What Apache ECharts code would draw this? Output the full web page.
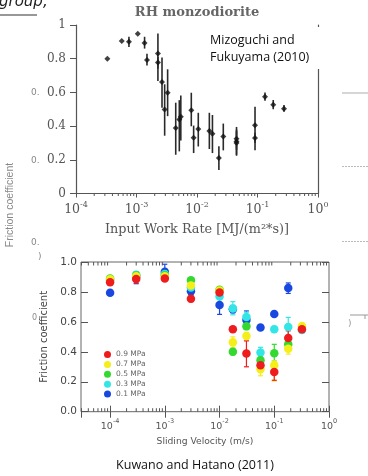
<!DOCTYPE html>
<html><head><meta charset="utf-8">
<script src="https://cdn.jsdelivr.net/npm/echarts@6/dist/echarts.min.js"></script>
<style>html,body{margin:0;padding:0;background:#fff;overflow:hidden}#c{width:368px;height:476px}</style>
</head><body><div id="c"></div>
<script>
// ---------- Top chart: Mizoguchi and Fukuyama (2010), RH monzodiorite ----------
const topRate = [3.3e-4, 5.7e-4, 7.5e-4, 1.05e-3, 1.36e-3, 1.49e-3, 2.26e-3, 2.26e-3, 2.64e-3, 2.92e-3, 3.27e-3, 4.45e-3, 5.1e-3, 5.4e-3, 8.05e-3, 8.8e-3, 1.05e-2, 1.6e-2, 1.8e-2, 2.3e-2, 2.72e-2, 4.5e-2, 4.5e-2, 4.5e-2, 9.1e-2, 9.1e-2, 0.133, 0.182, 0.274];
const topMu   = [0.80, 0.905, 0.90, 0.948, 0.893, 0.793, 0.831, 0.777, 0.661, 0.499, 0.598, 0.389, 0.439, 0.455, 0.494, 0.331, 0.383, 0.371, 0.355, 0.21, 0.339, 0.325, 0.309, 0.30, 0.405, 0.33, 0.574, 0.527, 0.503];
const topLow  = [null, null, 0.87, null, 0.86, 0.76, 0.667, 0.74, 0.509, 0.343, 0.459, 0.23, 0.25, 0.315, 0.399, 0.24, 0.279, 0.264, 0.24, 0.14, 0.256, 0.26, 0.224, 0.23, 0.256, 0.30, 0.55, 0.50, 0.485];
const topHigh = [null, null, 0.93, null, 0.93, 0.83, 0.95, 0.81, 0.807, 0.648, 0.737, 0.539, 0.554, 0.582, 0.598, 0.403, 0.479, 0.479, 0.466, 0.28, 0.415, 0.38, 0.395, 0.37, 0.515, 0.36, 0.60, 0.555, 0.525];
const topYTicks = [0, 0.2, 0.4, 0.6, 0.8, 1];

// ---------- Bottom chart: Kuwano and Hatano (2011) ----------
const velocities = [1e-4, 3e-4, 1e-3, 3e-3, 1e-2, 1.75e-2, 3.1e-2, 5.6e-2, 1e-1, 1.8e-1, 3.2e-1];
const pressures = ['0.9 MPa', '0.7 MPa', '0.5 MPa', '0.3 MPa', '0.1 MPa'];
const mu09 = [0.865, 0.886, 0.89, 0.755, 0.797, 0.55, 0.388, 0.31, 0.265, 0.492, 0.55];
const lo09 = [0.85, 0.86, 0.88, 0.735, 0.78, null, 0.30, 0.285, 0.21, 0.45, 0.535];
const hi09 = [0.88, 0.91, 0.90, 0.78, 0.81, null, 0.473, 0.335, 0.31, 0.54, 0.565];
const mu07 = [0.885, 0.905, 0.905, 0.843, 0.81, 0.464, 0.505, 0.283, 0.31, 0.42, 0.572];
const lo07 = [null, null, null, null, null, 0.43, 0.48, 0.24, 0.205, 0.385, 0.545];
const hi07 = [null, null, null, null, null, 0.50, 0.53, 0.31, 0.34, 0.45, 0.59];
const mu05 = [0.89, 0.91, 0.912, 0.878, 0.815, 0.40, 0.57, 0.343, 0.39, 0.45, null];
const lo05 = [null, null, null, null, null, 0.38, 0.55, 0.32, 0.34, 0.43, null];
const hi05 = [null, null, null, null, null, 0.42, 0.59, 0.36, 0.45, 0.47, null];
const mu03 = [0.878, 0.915, 0.92, 0.83, 0.77, 0.69, 0.632, 0.395, 0.55, 0.565, 0.545];
const lo03 = [null, null, null, null, 0.75, 0.647, 0.60, 0.37, 0.53, 0.49, 0.525];
const hi03 = [null, null, null, null, 0.79, 0.735, 0.665, 0.43, 0.57, 0.63, 0.57];
const mu01 = [0.795, 0.90, 0.935, 0.805, 0.713, 0.685, 0.612, 0.563, 0.653, 0.826, null];
const lo01 = [0.78, 0.855, 0.90, 0.78, 0.65, 0.66, 0.58, null, null, 0.79, null];
const hi01 = [0.81, 0.935, 0.985, 0.83, 0.78, 0.71, 0.673, null, null, 0.86, null];
const bottomYTicks = [0, 0.2, 0.4, 0.6, 0.8, 1.0];

// ---------- styling ----------
const colors = {'0.9 MPa':'#ee1c1c','0.7 MPa':'#f4ef1a','0.5 MPa':'#33d92e','0.3 MPa':'#33e6e6','0.1 MPa':'#1848e0'};
const groups = {
  '0.9 MPa':[mu09,lo09,hi09], '0.7 MPa':[mu07,lo07,hi07], '0.5 MPa':[mu05,lo05,hi05],
  '0.3 MPa':[mu03,lo03,hi03], '0.1 MPa':[mu01,lo01,hi01]
};
const SERIF = 'DejaVu Serif', SANS = 'DejaVu Sans';

function minorTickValues(e0, e1, minV){
  const a=[]; for(let e=e0;e<e1;e++){ for(let m=2;m<=9;m++){ const v=m*Math.pow(10,e); if(v>=minV) a.push([v,0.5]); } } return a;
}
function expLabel(v){
  const l=Math.log10(v), e=Math.round(l);
  if(Math.abs(l-e)>0.01) return '';
  return '{b|10}{s|'+e+'}';
}

const chart = echarts.init(document.getElementById('c'), null, {renderer:'canvas'});

function minorRenderer(len, top, inside){
  return function(params, api){
    const cs = params.coordSys;
    const x = api.coord([api.value(0), api.value(1)])[0];
    const yb = cs.y + cs.height;
    const ch = [{type:'line', shape:{x1:x, y1:yb, x2:x, y2: inside ? yb-len : yb+len}, style:{stroke:'#555', lineWidth:1}}];
    if(top) ch.push({type:'line', shape:{x1:x, y1:cs.y, x2:x, y2:cs.y+len}, style:{stroke:'#555', lineWidth:1}});
    return {type:'group', children:ch};
  };
}
function errRenderer(color, cap, width){
  return function(params, api){
    const x = api.value(0);
    const p1 = api.coord([x, api.value(1)]), p2 = api.coord([x, api.value(2)]);
    const ch = [{type:'line', shape:{x1:p1[0], y1:p1[1], x2:p2[0], y2:p2[1]}, style:{stroke:color, lineWidth:width}}];
    if(cap>0){
      ch.push({type:'line', shape:{x1:p1[0]-cap, y1:p1[1], x2:p1[0]+cap, y2:p1[1]}, style:{stroke:color, lineWidth:width}});
      ch.push({type:'line', shape:{x1:p2[0]-cap, y1:p2[1], x2:p2[0]+cap, y2:p2[1]}, style:{stroke:color, lineWidth:width}});
    }
    return {type:'group', children:ch};
  };
}

const series = [];
// top chart
series.push({type:'custom', xAxisIndex:0, yAxisIndex:0, silent:true, z:3,
  data: minorTickValues(-4, 0, 1e-4), renderItem: minorRenderer(2.5, false, false)});
series.push({type:'custom', xAxisIndex:0, yAxisIndex:0, silent:true, z:3,
  data: topRate.map((v,i)=> topLow[i]==null?null:[v, topLow[i], topHigh[i]]).filter(d=>d),
  renderItem: errRenderer('#2a2a2a', 0, 1.6)});
series.push({type:'scatter', xAxisIndex:0, yAxisIndex:0, symbol:'diamond', symbolSize:6,
  itemStyle:{color:'#111'}, data: topRate.map((v,i)=>[v, topMu[i]]), z:4});

// bottom chart
series.push({type:'custom', xAxisIndex:2, yAxisIndex:2, silent:true, z:3,
  data: minorTickValues(-5, 0, 2.94e-5), renderItem: minorRenderer(3.5, true, true)});
['0.1 MPa','0.3 MPa','0.5 MPa','0.7 MPa','0.9 MPa'].forEach(name=>{
  const [mu, lo, hi] = groups[name];
  series.push({type:'custom', name: name+' err', xAxisIndex:2, yAxisIndex:2, silent:true, z:4,
    data: velocities.map((v,i)=> lo[i]==null?null:[v, lo[i], hi[i]]).filter(d=>d),
    renderItem: errRenderer(colors[name], 2.5, 1.2)});
  series.push({type:'scatter', name: name, xAxisIndex:2, yAxisIndex:2, symbol:'circle', symbolSize:8.5, z:5,
    itemStyle:{color:colors[name], opacity:1},
    data: velocities.map((v,i)=> mu[i]==null?null:[v, mu[i]]).filter(d=>d)});
});

const topLabelRich = {
  b:{fontFamily:SERIF, fontSize:12.5, color:'#555', lineHeight:16, verticalAlign:'bottom'},
  s:{fontFamily:SERIF, fontSize:8, color:'#555', lineHeight:10, verticalAlign:'top'}
};
const botLabelRich = {
  b:{fontFamily:SANS, fontSize:9.5, color:'#555', lineHeight:14, verticalAlign:'bottom'},
  s:{fontFamily:SANS, fontSize:6.5, color:'#555', lineHeight:8, verticalAlign:'top'}
};

const option = {
  animation:false,
  backgroundColor:'#fff',
  grid:[
    {left:76, right:50, top:25, bottom:282.5, containLabel:false},
    {left:81, right:39, top:262, bottom:64.3, containLabel:false, show:true, borderColor:'#666', borderWidth:1}
  ],
  legend:{
    data: pressures, orient:'vertical', left:104, top:350.5, padding:0,
    itemWidth:7, itemHeight:7, itemGap:1.9, icon:'circle',
    textStyle:{fontFamily:SANS, fontSize:7.5, color:'#666', lineHeight:7}
  },
  xAxis:[
    {type:'log', logBase:10, gridIndex:0, min:1e-4, max:1, position:'bottom',
      axisLine:{show:true, lineStyle:{color:'#555', width:1.2}},
      axisTick:{show:true, inside:false, length:4, lineStyle:{color:'#555'}},
      axisLabel:{formatter:expLabel, rich:topLabelRich, margin:7},
      splitLine:{show:false},
      name:'Input Work Rate [MJ/(m²*s)]', nameLocation:'middle', nameGap:30,
      nameTextStyle:{fontFamily:SERIF, fontSize:12.8, color:'#555'}},
    {type:'log', logBase:10, gridIndex:0, min:1e-4, max:1, position:'top',
      axisLine:{show:true, lineStyle:{color:'#555', width:1.2}},
      axisTick:{show:false}, axisLabel:{show:false}, splitLine:{show:false}},
    {type:'log', logBase:10, gridIndex:1, min:2.94e-5, max:1, position:'bottom',
      axisLine:{show:false}, 
      axisTick:{show:true, inside:true, length:6, lineStyle:{color:'#555'}},
      axisLabel:{formatter:expLabel, rich:botLabelRich, margin:6, showMinLabel:false},
      splitLine:{show:false},
      name:'Sliding Velocity (m/s)', nameLocation:'middle', nameGap:25,
      nameTextStyle:{fontFamily:SANS, fontSize:9.2, color:'#555'}},
    {type:'log', logBase:10, gridIndex:1, min:2.94e-5, max:1, position:'top',
      axisLine:{show:false}, axisTick:{show:true, inside:true, length:6, lineStyle:{color:'#555'}},
      axisLabel:{show:false}, splitLine:{show:false}}
  ],
  yAxis:[
    {type:'value', gridIndex:0, min:0, max:1, interval:0.2,
      axisLine:{show:true, lineStyle:{color:'#555', width:1.2}},
      axisTick:{show:true, inside:false, length:6, lineStyle:{color:'#555'}},
      axisLabel:{fontFamily:SERIF, fontSize:12, color:'#555', margin:10},
      splitLine:{show:false}},
    {type:'value', gridIndex:0, min:0, max:1, interval:0.2, position:'right',
      axisLine:{show:true, lineStyle:{color:'#555', width:1.2}},
      axisTick:{show:false}, axisLabel:{show:false}, splitLine:{show:false}},
    {type:'value', gridIndex:1, min:0, max:1, interval:0.2,
      axisLine:{show:false},
      axisTick:{show:true, inside:true, length:7, lineStyle:{color:'#555'}},
      axisLabel:{fontFamily:SANS, fontSize:10.5, color:'#444', margin:4, formatter:v=>v.toFixed(1)},
      splitLine:{show:false},
      name:'Friction coefficient', nameLocation:'middle', nameGap:27,
      nameTextStyle:{fontFamily:SANS, fontSize:10, color:'#444'}},
    {type:'value', gridIndex:1, min:0, max:1, interval:0.2, position:'right',
      axisLine:{show:false},
      axisTick:{show:true, inside:true, length:7, lineStyle:{color:'#555'}},
      axisLabel:{show:false}, splitLine:{show:false}}
  ],
  series: series,
  graphic:[
    {type:'text', x:197, y:13, z:10, style:{text:'RH monzodiorite', align:'center', verticalAlign:'middle',
      font:'bold 13px "DejaVu Serif"', fill:'#666'}},
    {type:'rect', shape:{x:203, y:27, width:130, height:42}, style:{fill:'#fff'}, z:20},
    {type:'text', x:210, y:40, z:21, style:{text:'Mizoguchi and', verticalAlign:'middle', font:'12.5px "Open Sans"', fill:'#111'}},
    {type:'text', x:210, y:57.5, z:21, style:{text:'Fukuyama (2010)', verticalAlign:'middle', font:'12.5px "Open Sans"', fill:'#111'}},
    {type:'text', x:195, y:465, z:21, style:{text:'Kuwano and Hatano (2011)', align:'center', verticalAlign:'middle', font:'12.5px "Open Sans"', fill:'#111'}},
    // slide remnants
    {type:'text', x:-1, y:-5, z:21, style:{text:'group,', font:'italic 15px "DejaVu Sans"', fill:'#222'}},
    {type:'line', shape:{x1:0, y1:15, x2:37, y2:15}, style:{stroke:'#333', lineWidth:1.2}, z:21},
    {type:'text', x:31, y:93, z:21, style:{text:'0.', verticalAlign:'middle', font:'9px "DejaVu Sans"', fill:'#888'}},
    {type:'text', x:31, y:161, z:21, style:{text:'0.', verticalAlign:'middle', font:'9px "DejaVu Sans"', fill:'#888'}},
    {type:'text', x:31, y:243, z:21, style:{text:'0.', verticalAlign:'middle', font:'9px "DejaVu Sans"', fill:'#888'}},
    {type:'text', x:32, y:318, z:21, style:{text:'0', verticalAlign:'middle', font:'8px "DejaVu Sans"', fill:'#888'}},
    {type:'text', x:38, y:257, z:21, style:{text:')', verticalAlign:'middle', font:'9px "DejaVu Sans"', fill:'#888'}},
    {type:'text', x:10, y:205, rotation:Math.PI/2, z:21, style:{text:'Friction coefficient', align:'center', verticalAlign:'middle', font:'10.5px "Liberation Sans"', fill:'#888'}},
    {type:'line', shape:{x1:342, y1:93, x2:368, y2:93}, style:{stroke:'#bbb', lineWidth:1.2}, z:21},
    {type:'line', shape:{x1:342, y1:166.5, x2:368, y2:166.5}, style:{stroke:'#bbb', lineWidth:1, lineDash:[2,1]}, z:21},
    {type:'line', shape:{x1:342, y1:241.5, x2:368, y2:241.5}, style:{stroke:'#bbb', lineWidth:1, lineDash:[2,1]}, z:21},
    {type:'line', shape:{x1:350, y1:315, x2:368, y2:315}, style:{stroke:'#999', lineWidth:1}, z:21},
    {type:'line', shape:{x1:365, y1:315, x2:365, y2:319}, style:{stroke:'#999', lineWidth:1}, z:21},
    {type:'text', x:348, y:324, z:21, style:{text:')', verticalAlign:'middle', font:'9px "DejaVu Sans"', fill:'#999'}}
  ]
};
chart.setOption(option);
</script>
</body></html>
